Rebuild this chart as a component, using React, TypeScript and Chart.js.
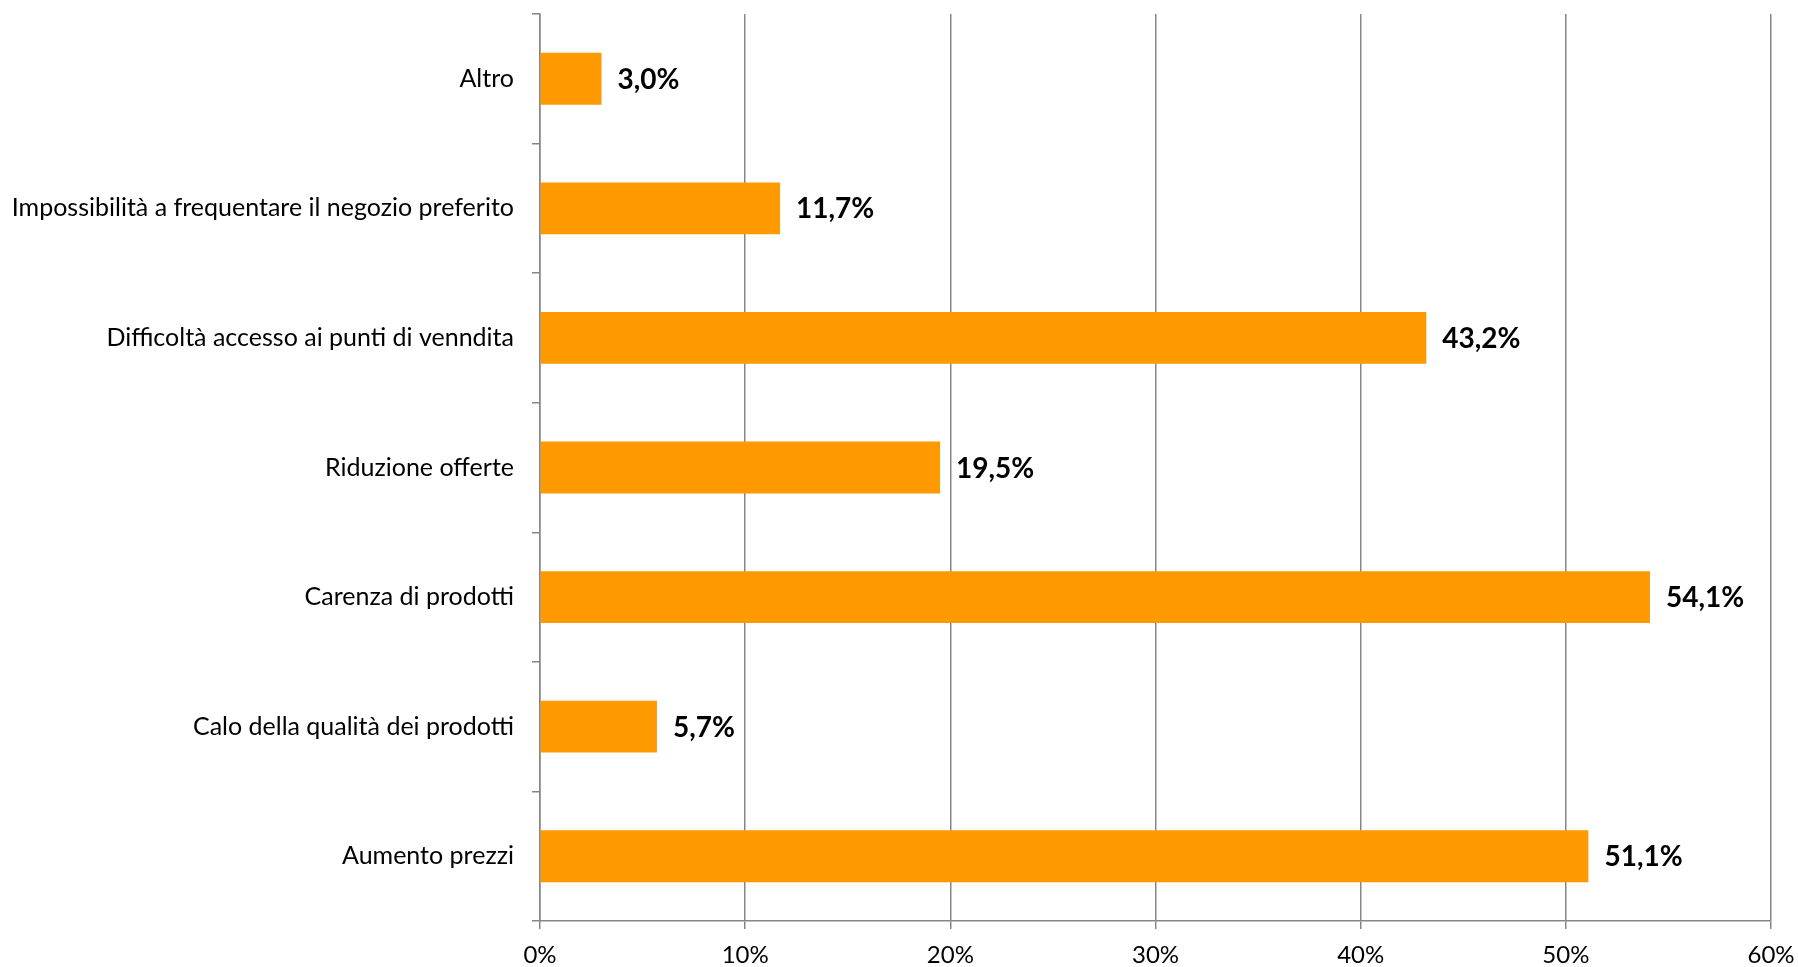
import React, { useEffect, useRef } from "react";
import { Chart, registerables } from "chart.js";

Chart.register(...registerables);

const categories = [
  "Altro",
  "Impossibilità a frequentare il negozio preferito",
  "Difficoltà accesso ai punti di venndita",
  "Riduzione offerte",
  "Carenza di prodotti",
  "Calo della qualità dei prodotti",
  "Aumento prezzi",
];
const values = [3.0, 11.7, 43.2, 19.5, 54.1, 5.7, 51.1];
const xTicks = [0, 10, 20, 30, 40, 50, 60];

const FONT = "Lato, 'Open Sans', sans-serif";
const GRID = "#868686";

const dataLabels = {
  id: "dataLabels",
  afterDatasetsDraw(chart: any) {
    const ctx = chart.ctx;
    const meta = chart.getDatasetMeta(0);
    ctx.save();
    ctx.font = `bold 28px ${FONT}`;
    ctx.fillStyle = "#000";
    ctx.textAlign = "left";
    ctx.textBaseline = "middle";
    meta.data.forEach((el: any, i: number) => {
      const v = values[i];
      ctx.fillText(v.toFixed(1).replace(".", ",") + "%", el.x + 16, el.y + 1);
    });
    ctx.restore();
  },
};

export default function App() {
  const ref = useRef<HTMLCanvasElement>(null);
  useEffect(() => {
    if (!ref.current) return;
    const chart = new Chart(ref.current, {
      type: "bar",
      data: {
        labels: categories,
        datasets: [
          {
            data: values,
            backgroundColor: "#FF9900",
            borderWidth: 0,
            categoryPercentage: 1,
            barPercentage: 0.4,
          },
        ],
      },
      plugins: [dataLabels],
      options: {
        indexAxis: "y",
        responsive: false,
        animation: false,
        layout: { padding: { top: 14, right: 27, bottom: 0, left: 0 } },
        plugins: { legend: { display: false }, tooltip: { enabled: false } },
        scales: {
          x: {
            min: 0,
            max: 60,
            afterBuildTicks: (s: any) => {
              s.ticks = xTicks.map((v) => ({ value: v }));
            },
            afterFit: (s: any) => {
              s.height = 46;
              s.paddingLeft = 0;
              s.paddingRight = 0;
            },
            ticks: {
              callback: (v: any) => v + "%",
              font: { family: FONT, size: 24 },
              color: "#000",
              padding: 12,
              maxRotation: 0,
            },
            grid: { color: GRID, lineWidth: 1.5, tickLength: 8 },
            border: { color: GRID, width: 1.5 },
          },
          y: {
            afterFit: (s: any) => {
              s.width = 540;
              s.paddingTop = 0;
              s.paddingBottom = 0;
            },
            ticks: {
              font: { family: FONT, size: 25 },
              color: "#000",
              padding: 18,
            },
            grid: {
              offset: true,
              drawOnChartArea: false,
              color: GRID,
              lineWidth: 1.5,
              tickLength: 8,
            },
            border: { color: GRID, width: 1.5 },
          },
        },
      },
    });
    return () => chart.destroy();
  }, []);
  return (
    <div style={{ position: "fixed", left: 0, top: 0, width: 1798, height: 967, background: "#fff" }}>
      <canvas ref={ref} width={1798} height={967} />
    </div>
  );
}
